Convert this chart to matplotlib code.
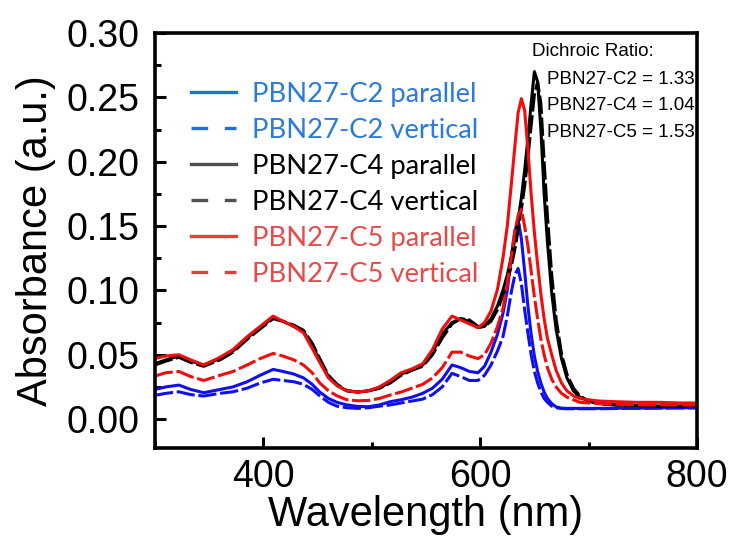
import matplotlib.pyplot as plt
from matplotlib.lines import Line2D
from matplotlib.ticker import MultipleLocator

# wavelength grid (nm)
wavelength = [300, 310, 322, 333, 345, 360, 372, 385, 397, 409,
              418, 428, 437, 445, 452, 460, 468, 477, 487, 497,
              507, 517, 527, 537, 547, 556, 565, 574, 582, 590,
              598, 604, 610, 616, 621, 625, 629, 632, 635, 638,
              641, 644, 647, 650, 653, 656, 659, 662, 666, 670,
              675, 680, 686, 692, 700, 710, 725, 745, 765, 785, 800]

c2_parallel = [0.023, 0.025, 0.0264, 0.023, 0.0205, 0.023, 0.025, 0.029, 0.034, 0.0386,
               0.037, 0.035, 0.032, 0.027, 0.021, 0.016, 0.013, 0.011, 0.0098, 0.0096,
               0.011, 0.0135, 0.015, 0.017, 0.020, 0.024, 0.031, 0.042, 0.040, 0.037,
               0.036, 0.041, 0.052, 0.066, 0.082, 0.100, 0.128, 0.146, 0.155, 0.140,
               0.115, 0.088, 0.066, 0.049, 0.037, 0.028, 0.021, 0.016, 0.012, 0.0095,
               0.0085, 0.0083, 0.0083, 0.0083, 0.0083, 0.0083, 0.0085, 0.0085, 0.0087, 0.0088, 0.0088]

c2_vertical = [0.0184, 0.020, 0.0212, 0.019, 0.0179, 0.020, 0.0212, 0.024, 0.028, 0.0309,
               0.030, 0.029, 0.027, 0.023, 0.018, 0.013, 0.010, 0.0088, 0.0083, 0.0088,
               0.0100, 0.011, 0.0125, 0.014, 0.0155, 0.019, 0.025, 0.0355, 0.033, 0.030,
               0.030, 0.034, 0.042, 0.053, 0.064, 0.080, 0.100, 0.112, 0.117, 0.105,
               0.085, 0.067, 0.050, 0.037, 0.028, 0.021, 0.016, 0.013, 0.0100, 0.0088,
               0.0082, 0.008, 0.008, 0.008, 0.008, 0.008, 0.0082, 0.0083, 0.0085, 0.0086, 0.0087]

c4_parallel = [0.043, 0.046, 0.049, 0.045, 0.042, 0.047, 0.053, 0.063, 0.071, 0.079,
               0.076, 0.072, 0.068, 0.057, 0.046, 0.033, 0.026, 0.022, 0.021, 0.022,
               0.024, 0.029, 0.035, 0.038, 0.042, 0.052, 0.066, 0.075, 0.078, 0.076,
               0.071, 0.072, 0.078, 0.088, 0.100, 0.112, 0.127, 0.140, 0.155, 0.172,
               0.193, 0.218, 0.245, 0.270, 0.262, 0.225, 0.175, 0.138, 0.098, 0.070,
               0.047, 0.032, 0.022, 0.017, 0.014, 0.012, 0.011, 0.0105, 0.010, 0.010, 0.010]

c4_vertical = [0.042, 0.045, 0.048, 0.044, 0.041, 0.046, 0.052, 0.062, 0.070, 0.078,
               0.076, 0.073, 0.069, 0.059, 0.047, 0.034, 0.027, 0.022, 0.021, 0.022,
               0.024, 0.028, 0.034, 0.038, 0.041, 0.050, 0.063, 0.074, 0.078, 0.077,
               0.072, 0.072, 0.076, 0.085, 0.096, 0.107, 0.120, 0.132, 0.147, 0.163,
               0.181, 0.203, 0.228, 0.252, 0.262, 0.245, 0.200, 0.158, 0.112, 0.078,
               0.051, 0.035, 0.024, 0.018, 0.014, 0.012, 0.011, 0.0105, 0.010, 0.010, 0.010]

c5_parallel = [0.047, 0.049, 0.050, 0.046, 0.042, 0.048, 0.054, 0.064, 0.072, 0.080,
               0.076, 0.072, 0.067, 0.055, 0.044, 0.032, 0.026, 0.022, 0.021, 0.022,
               0.025, 0.030, 0.036, 0.039, 0.043, 0.054, 0.070, 0.080, 0.077, 0.074,
               0.071, 0.075, 0.084, 0.101, 0.125, 0.150, 0.185, 0.212, 0.238, 0.249,
               0.240, 0.210, 0.175, 0.145, 0.120, 0.097, 0.078, 0.063, 0.050, 0.038,
               0.028, 0.022, 0.018, 0.016, 0.015, 0.014, 0.0135, 0.013, 0.013, 0.0125, 0.0125]

c5_vertical = [0.0334, 0.036, 0.037, 0.033, 0.030, 0.034, 0.037, 0.042, 0.047, 0.051,
               0.049, 0.046, 0.042, 0.036, 0.028, 0.022, 0.018, 0.015, 0.0142, 0.0145,
               0.016, 0.0187, 0.021, 0.024, 0.027, 0.032, 0.040, 0.052, 0.052, 0.049,
               0.047, 0.050, 0.059, 0.072, 0.086, 0.105, 0.128, 0.146, 0.158, 0.163,
               0.150, 0.135, 0.115, 0.095, 0.078, 0.062, 0.050, 0.040, 0.031, 0.025,
               0.020, 0.017, 0.015, 0.013, 0.0125, 0.012, 0.0115, 0.011, 0.011, 0.011, 0.011]

spectra = [c2_parallel, c2_vertical, c4_parallel, c4_vertical, c5_parallel, c5_vertical]
labels = ['PBN27-C2 parallel', 'PBN27-C2 vertical', 'PBN27-C4 parallel',
          'PBN27-C4 vertical', 'PBN27-C5 parallel', 'PBN27-C5 vertical']
ratio_lines = ['PBN27-C2 = 1.33', 'PBN27-C4 = 1.04', 'PBN27-C5 = 1.53']

curve_colors = ['#1010ee', '#1010ee', '#000000', '#000000', '#f20c0c', '#f20c0c']
legend_line_colors = ['#1f6fdc', '#1f6fdc', '#505050', '#505050', '#ee3b3b', '#ee3b3b']
legend_text_colors = ['#2a7bdc', '#2a7bdc', '#000000', '#000000', '#e84a4a', '#e84a4a']

fig = plt.figure(figsize=(7.37, 5.39), dpi=100)
ax = fig.add_axes([0.2103, 0.1688, 0.7354, 0.770])

for i in range(len(spectra)):
    if i % 2 == 0:
        ax.plot(wavelength, spectra[i], color=curve_colors[i], lw=2.2)
    else:
        ax.plot(wavelength, spectra[i], color=curve_colors[i], lw=2.2, dashes=(6, 1.2))

ax.set_xlim(300, 800)
ax.set_ylim(-0.0225, 0.30)
ax.set_xticks([400, 600, 800])
ax.xaxis.set_minor_locator(MultipleLocator(100))
ax.yaxis.set_major_locator(MultipleLocator(0.05))
ax.yaxis.set_minor_locator(MultipleLocator(0.025))
ax.yaxis.set_major_formatter(plt.FormatStrFormatter('%.2f'))

for sp in ax.spines.values():
    sp.set_linewidth(2.6)
ax.tick_params(which='major', direction='in', length=8, width=2.2,
               labelsize=27, labelfontfamily='Liberation Sans')
ax.tick_params(which='minor', direction='in', length=4.5, width=2.2)
ax.tick_params(axis='x', pad=8)
ax.tick_params(axis='y', pad=11)

ax.set_xlabel('Wavelength (nm)', fontsize=30, family='Liberation Sans', labelpad=0)
ax.set_ylabel('Absorbance (a.u.)', fontsize=30, family='Liberation Sans', labelpad=8)

handles = []
for i in range(len(labels)):
    ls = '-' if i % 2 == 0 else (0, (5, 5))
    handles.append(Line2D([], [], color=legend_line_colors[i], lw=2.4, linestyle=ls))
leg = ax.legend(handles, labels, loc='upper left', frameon=False,
                bbox_to_anchor=(0.259, 0.848), bbox_transform=fig.transFigure,
                borderpad=0, borderaxespad=0, handlelength=1.65, handletextpad=0.58,
                labelspacing=0.40, prop={'family': 'Lato', 'size': 19.7})
for t, c in zip(leg.get_texts(), legend_text_colors):
    t.set_color(c)

fig.text(532 / 737, 1 - 52 / 539, 'Dichroic Ratio:', fontsize=13.5,
         family='Liberation Sans', ha='left', va='center')
for k, s in enumerate(ratio_lines):
    fig.text(547 / 737, 1 - (79 + 26.7 * k) / 539, s, fontsize=13.5,
             family='Liberation Sans', ha='left', va='center')

fig.savefig('out.png', dpi=100)
